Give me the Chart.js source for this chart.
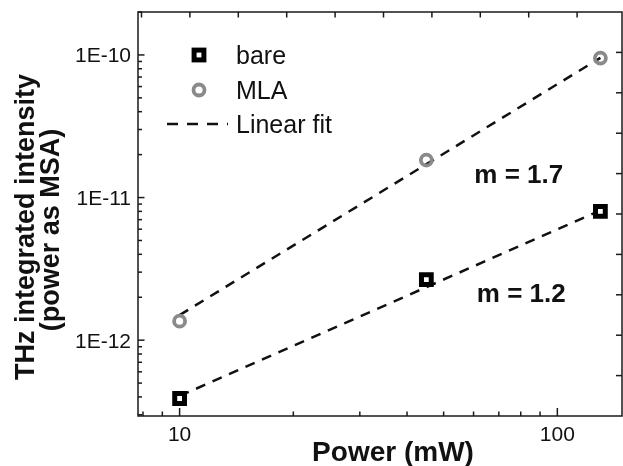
<!DOCTYPE html>
<html>
<head>
<meta charset="utf-8">
<script src="https://cdn.jsdelivr.net/npm/chart.js@4.4.1/dist/chart.umd.min.js"></script>
<style>
  html, body { margin: 0; padding: 0; background: #fff; }
  canvas { display: block; }
</style>
</head>
<body>
<canvas id="chart" width="623" height="466"></canvas>
<script>
// values
const powerMW = [10, 45, 130];
const bareIntensity = [3.9e-13, 2.66e-12, 8.0e-12];
const mlaIntensity = [1.36e-12, 1.83e-11, 9.5e-11];

const fitPower = [10, 130];
const bareFit = [4.06e-13, 8.13e-12];
const mlaFit = [1.50e-12, 9.54e-11];

const xTickValues = [10, 100];
const xTickLabels = ['10', '100'];
const yTickValues = [1e-10, 1e-11, 1e-12];
const yTickLabels = ['1E-10', '1E-11', '1E-12'];

const seriesNames = ['bare', 'MLA', 'Linear fit'];
const slopeLabels = ['m = 1.7', 'm = 1.2'];

const FONT = '"Liberation Sans", Arial, sans-serif';
const GREY = '#8a8a8a';

function pts(xs, ys) {
  return xs.map((v, i) => ({ x: v, y: ys[i] }));
}

const frame = {
  id: 'frame',
  afterDraw(chart) {
    const { ctx, chartArea: a, scales: { x, y } } = chart;
    ctx.save();
    ctx.strokeStyle = '#1a1a1a';
    ctx.lineWidth = 1.5;
    ctx.strokeRect(a.left, a.top, a.right - a.left, a.bottom - a.top);

    const line = (x1, y1, x2, y2) => {
      ctx.beginPath(); ctx.moveTo(x1, y1); ctx.lineTo(x2, y2); ctx.stroke();
    };

    // bottom log ticks
    for (let d = 1; d <= 100; d *= 10) {
      for (let m = 1; m < 10; m++) {
        const v = m * d;
        if (v < x.min || v > x.max) continue;
        const px = x.getPixelForValue(v);
        line(px, a.bottom, px, a.bottom - (m === 1 ? 8 : 4.5));
      }
    }
    // left log ticks
    for (let e = -13; e <= -10; e++) {
      for (let m = 1; m < 10; m++) {
        const v = m * Math.pow(10, e);
        if (v < y.min || v > y.max) continue;
        const py = y.getPixelForValue(v);
        line(a.left, py, a.left + (m === 1 ? 6.5 : 4), py);
      }
    }
    // top and right axes: evenly spaced ticks
    const w = a.right - a.left, h = a.bottom - a.top;
    for (let k = 0; k < 10; k++) {
      const px = a.left + 3.5 + k * w / 10;
      line(px, a.top, px, a.top + 5.5);
    }
    for (let k = 1; k < 10; k++) {
      const py = a.top + k * h / 10;
      line(a.right, py, a.right - 6, py);
    }

    // tick labels
    ctx.fillStyle = '#111';
    ctx.font = '21px ' + FONT;
    ctx.textBaseline = 'alphabetic';
    ctx.textAlign = 'center';
    xTickValues.forEach((v, i) => {
      ctx.fillText(xTickLabels[i], x.getPixelForValue(v), 441);
    });
    ctx.textAlign = 'right';
    yTickValues.forEach((v, i) => {
      ctx.fillText(yTickLabels[i], 131, y.getPixelForValue(v) + 7.5);
    });

    // axis titles
    ctx.font = 'bold 28px ' + FONT;
    ctx.textAlign = 'center';
    ctx.fillText('Power (mW)', 393, 461);
    ctx.font = 'bold 27px ' + FONT;
    ctx.save();
    ctx.translate(34, 227);
    ctx.rotate(-Math.PI / 2);
    ctx.fillText('THz integrated intensity', 0, 0);
    ctx.restore();
    ctx.save();
    ctx.translate(59, 230);
    ctx.rotate(-Math.PI / 2);
    ctx.fillText('(power as MSA)', 0, 0);
    ctx.restore();

    // slope annotations
    ctx.textAlign = 'left';
    ctx.font = 'bold 26px ' + FONT;
    ctx.fillText(slopeLabels[0], x.getPixelForValue(60.3), y.getPixelForValue(1.27e-11));
    ctx.fillText(slopeLabels[1], x.getPixelForValue(61.2), y.getPixelForValue(1.85e-12));

    // legend
    ctx.strokeStyle = '#000';
    ctx.lineWidth = 5;
    ctx.strokeRect(199 - 4.9, 55 - 4.9, 9.8, 9.8);
    ctx.strokeStyle = GREY;
    ctx.lineWidth = 3.8;
    ctx.beginPath(); ctx.arc(199, 90, 5.5, 0, Math.PI * 2); ctx.stroke();
    ctx.strokeStyle = '#111';
    ctx.lineWidth = 2.5;
    ctx.setLineDash([11, 9]);
    line(167, 124, 228, 124);
    ctx.setLineDash([]);
    ctx.font = '25px ' + FONT;
    ctx.fillText(seriesNames[0], 236, 64);
    ctx.fillText(seriesNames[1], 236, 99);
    ctx.fillText(seriesNames[2], 236, 133);
    ctx.restore();
  }
};

new Chart(document.getElementById('chart'), {
  type: 'scatter',
  data: {
    datasets: [
      {
        label: seriesNames[0],
        data: pts(powerMW, bareIntensity),
        pointStyle: 'rect',
        pointRadius: 6.9,
        pointBorderWidth: 5,
        borderColor: '#000',
        backgroundColor: '#fff',
        order: 0
      },
      {
        label: seriesNames[1],
        data: pts(powerMW, mlaIntensity),
        pointStyle: 'circle',
        pointRadius: 5.5,
        pointBorderWidth: 3.8,
        borderColor: GREY,
        backgroundColor: 'rgba(0,0,0,0)',
        order: 0
      },
      {
        label: seriesNames[2],
        data: pts(fitPower, bareFit),
        showLine: true,
        pointRadius: 0,
        borderColor: '#111',
        borderWidth: 2.5,
        borderDash: [10, 8],
        order: 1
      },
      {
        label: seriesNames[2],
        data: pts(fitPower, mlaFit),
        showLine: true,
        pointRadius: 0,
        borderColor: '#111',
        borderWidth: 2.5,
        borderDash: [10, 8],
        order: 1
      }
    ]
  },
  options: {
    responsive: false,
    animation: false,
    devicePixelRatio: 1,
    layout: { autoPadding: false, padding: { left: 138, right: 1, top: 12, bottom: 50 } },
    plugins: { legend: { display: false }, tooltip: { enabled: false } },
    scales: {
      x: { type: 'logarithmic', min: 7.76, max: 148.3, bounds: 'data', display: false },
      y: { type: 'logarithmic', min: 2.94e-13, max: 2.0e-10, bounds: 'data', display: false }
    }
  },
  plugins: [frame]
});
</script>
</body>
</html>
